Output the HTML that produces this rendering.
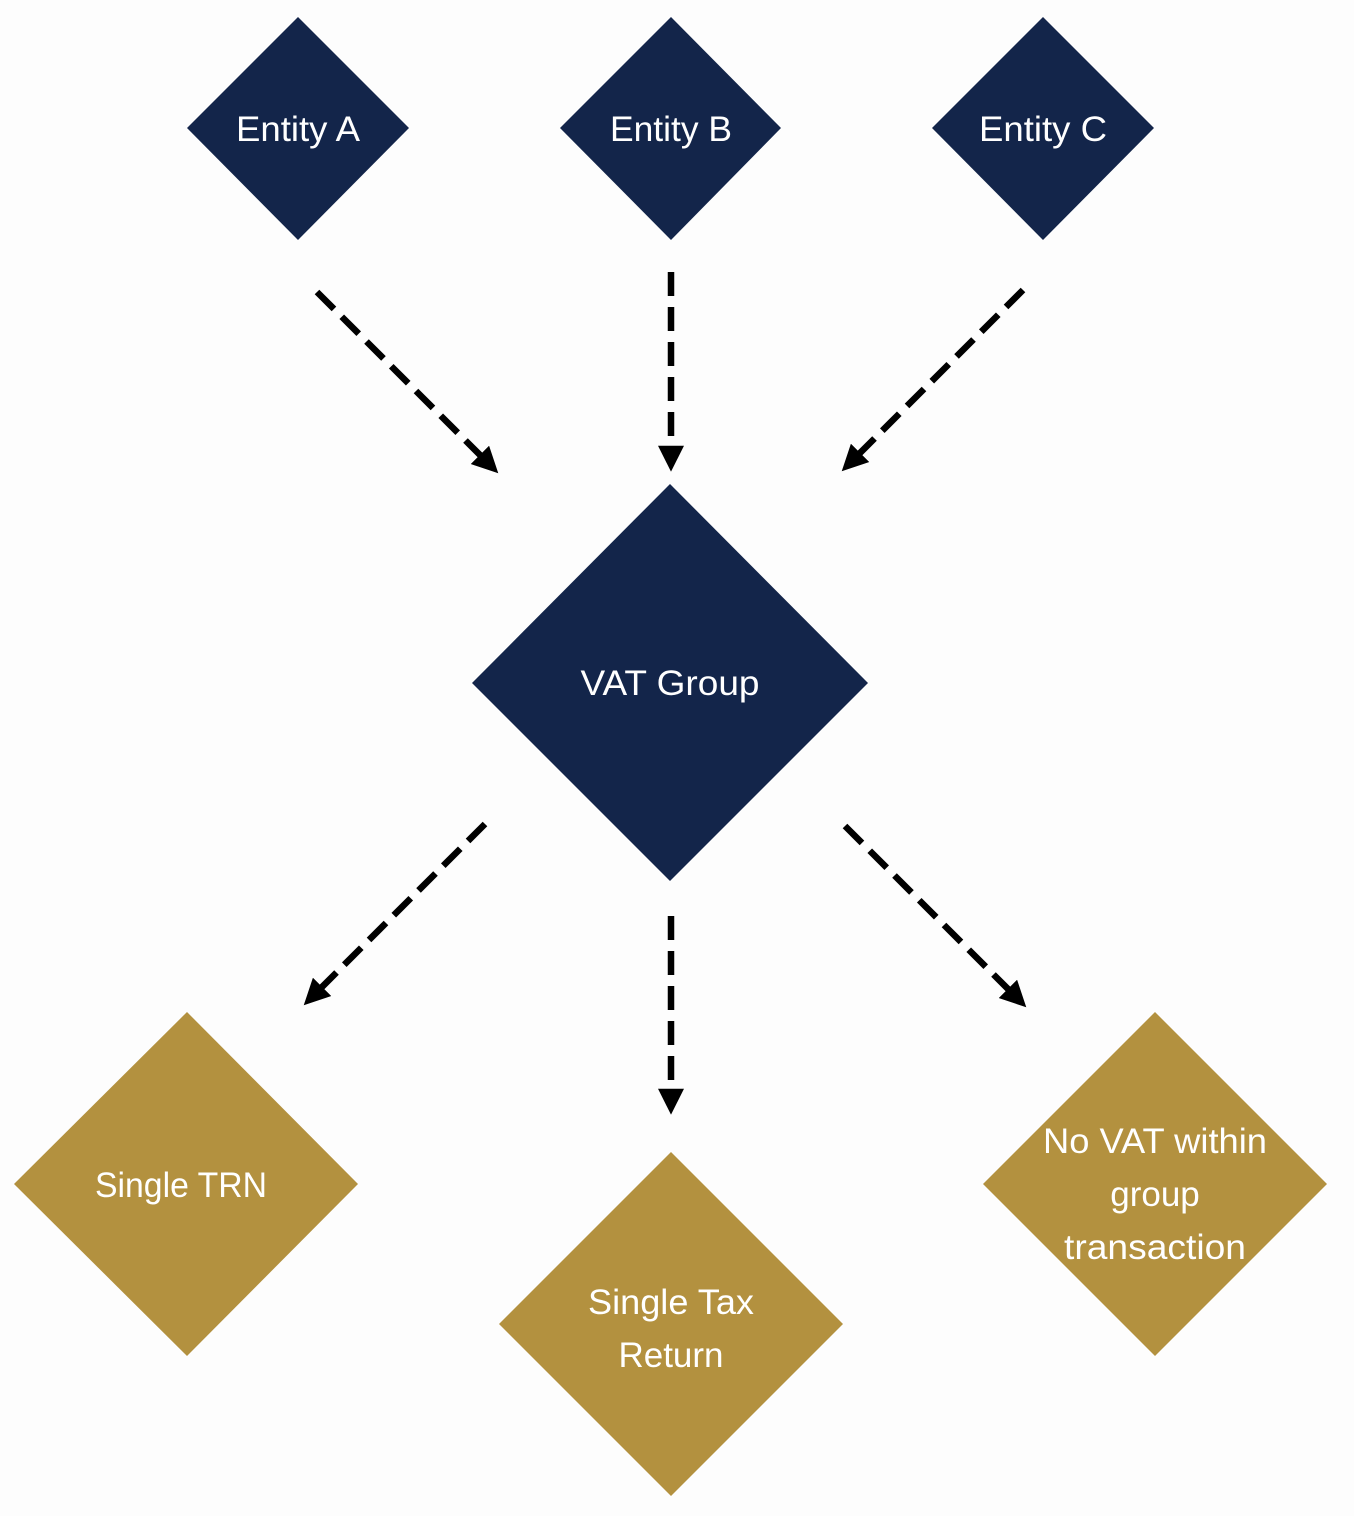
<!DOCTYPE html>
<html><head><meta charset="utf-8"><style>
html,body{margin:0;padding:0;background:#fdfdfd;}
svg{display:block}
text{font-family:"Liberation Sans",sans-serif;fill:#fff;text-anchor:middle;}
</style></head><body>
<svg width="1354" height="1516" viewBox="0 0 1354 1516" xmlns="http://www.w3.org/2000/svg">
<defs>
<marker id="ah" markerWidth="4" markerHeight="4" refX="2.2" refY="2" orient="auto" markerUnits="strokeWidth">
<path d="M0,0 L4,2 L0,4 Z" fill="#000"/>
</marker>
</defs>
<rect width="1354" height="1516" fill="#fdfdfd"/>
<g fill="#13254a">
<polygon points="298,17 409,128 298,240 187,128"/>
<polygon points="671,17 781,128 671,240 560,128"/>
<polygon points="1043,17 1154,128 1043,240 932,128"/>
<polygon points="670,484 868,683 670,881 472,683"/>
</g>
<g fill="#b3913f">
<polygon points="187,1012 358,1184 187,1356 14,1184"/>
<polygon points="671,1152 843,1324 671,1496 499,1324"/>
<polygon points="1155,1012 1327,1184 1155,1356 983,1184"/>
</g>
<g stroke="#000" stroke-width="6.5" stroke-dasharray="24,11" fill="none" marker-end="url(#ah)">
<line x1="317" y1="292" x2="490" y2="465"/>
<line x1="671" y1="272" x2="671" y2="460"/>
<line x1="1023" y1="290" x2="850" y2="463"/>
<line x1="485" y1="824" x2="312" y2="997"/>
<line x1="671" y1="916" x2="671" y2="1103"/>
<line x1="845" y1="826" x2="1018" y2="999"/>
</g>
<g font-size="35">
<text x="298" y="141" textLength="124" lengthAdjust="spacingAndGlyphs">Entity A</text>
<text x="671" y="141" textLength="122" lengthAdjust="spacingAndGlyphs">Entity B</text>
<text x="1043" y="141" textLength="128" lengthAdjust="spacingAndGlyphs">Entity C</text>
<text x="670" y="695" textLength="179" lengthAdjust="spacingAndGlyphs">VAT Group</text>
<text x="181" y="1197" textLength="172" lengthAdjust="spacingAndGlyphs">Single TRN</text>
<text x="671" y="1314" textLength="166" lengthAdjust="spacingAndGlyphs">Single Tax</text>
<text x="671" y="1367">Return</text>
<text x="1155" y="1153" textLength="224" lengthAdjust="spacingAndGlyphs">No VAT within</text>
<text x="1155" y="1206">group</text>
<text x="1155" y="1259" textLength="182" lengthAdjust="spacingAndGlyphs">transaction</text>
</g>
</svg>
</body></html>
